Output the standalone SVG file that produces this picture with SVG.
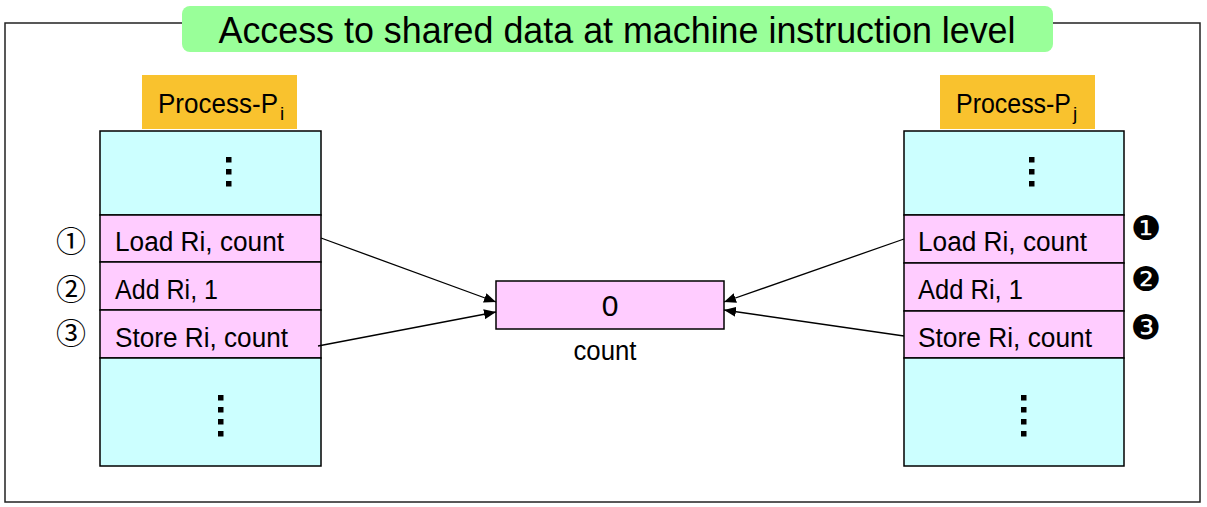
<svg xmlns="http://www.w3.org/2000/svg" width="1207" height="507" viewBox="0 0 1207 507">
<defs>
<style>
.t{font-family:"Liberation Sans",Arial,sans-serif;fill:#000}
.row{fill:#FFCCFF;stroke:#000;stroke-width:1.5}
.cy{fill:#CCFFFF;stroke:#000;stroke-width:1.5}
.lab{fill:#F9C22E}
.dot{fill:#000}
.con{stroke:#000;stroke-width:1.3;fill:none;marker-end:url(#ah)}
.cn{font-family:"Noto Sans CJK JP","DejaVu Sans",sans-serif;fill:#000}
.dn{font-family:"DejaVu Sans",sans-serif;fill:#000}
</style>
<marker id="ah" viewBox="0 0 12 10" refX="12" refY="5" markerWidth="12" markerHeight="10" markerUnits="userSpaceOnUse" orient="auto">
<path d="M0,0 L12,5 L0,10 z" fill="#000"/>
</marker>
</defs>
<rect width="1207" height="507" fill="#fff"/>
<rect id="frame" x="5" y="23" width="1195" height="479" fill="none" stroke="#222" stroke-width="1.5"/>
<g id="title">
<rect x="182" y="6" width="871" height="46" rx="8" fill="#99FF99"/>
<text class="t" x="617" y="43" font-size="36" text-anchor="middle" textLength="797" lengthAdjust="spacingAndGlyphs">Access to shared data at machine instruction level</text>
</g>
<g id="process-pi">
<rect class="lab" x="142" y="75" width="155" height="54"/>
<text class="t" x="158" y="113" font-size="28"><tspan textLength="120" lengthAdjust="spacingAndGlyphs">Process-P</tspan><tspan font-size="19" dx="2" dy="7">i</tspan></text>
<rect class="cy" x="100" y="131" width="221" height="84"/>
<rect class="dot" x="226" y="157" width="5.5" height="5.5"/>
<rect class="dot" x="226" y="169" width="5.5" height="5.5"/>
<rect class="dot" x="226" y="181" width="5.5" height="5.5"/>
<rect class="row" x="100" y="215" width="221" height="47"/>
<text class="t" x="115" y="251" font-size="27" textLength="169" lengthAdjust="spacingAndGlyphs">Load Ri, count</text>
<rect class="row" x="100" y="262" width="221" height="48"/>
<text class="t" x="115" y="299" font-size="27" textLength="103" lengthAdjust="spacingAndGlyphs">Add Ri, 1</text>
<rect class="row" x="100" y="310" width="221" height="48"/>
<text class="t" x="115" y="347" font-size="27" textLength="173" lengthAdjust="spacingAndGlyphs">Store Ri, count</text>
<rect class="cy" x="100" y="358" width="221" height="108"/>
<rect class="dot" x="218" y="395" width="5.5" height="5.5"/>
<rect class="dot" x="218" y="407" width="5.5" height="5.5"/>
<rect class="dot" x="218" y="419" width="5.5" height="5.5"/>
<rect class="dot" x="218" y="431" width="5.5" height="5.5"/>
<text class="cn" x="71" y="252" font-size="30" text-anchor="middle">①</text>
<text class="cn" x="71" y="300" font-size="30" text-anchor="middle">②</text>
<text class="cn" x="71" y="344" font-size="30" text-anchor="middle">③</text>
</g>
<g id="process-pj">
<rect class="lab" x="940" y="75" width="155" height="54"/>
<text class="t" x="956" y="113" font-size="28"><tspan textLength="115" lengthAdjust="spacingAndGlyphs">Process-P</tspan><tspan font-size="19" dx="2" dy="7">j</tspan></text>
<rect class="cy" x="904" y="131" width="220" height="84"/>
<rect class="dot" x="1029" y="157" width="5.5" height="5.5"/>
<rect class="dot" x="1029" y="169" width="5.5" height="5.5"/>
<rect class="dot" x="1029" y="181" width="5.5" height="5.5"/>
<rect class="row" x="904" y="215" width="220" height="48"/>
<text class="t" x="918" y="251" font-size="27" textLength="169" lengthAdjust="spacingAndGlyphs">Load Ri, count</text>
<rect class="row" x="904" y="263" width="220" height="48"/>
<text class="t" x="918" y="299" font-size="27" textLength="105" lengthAdjust="spacingAndGlyphs">Add Ri, 1</text>
<rect class="row" x="904" y="311" width="220" height="47"/>
<text class="t" x="918" y="347" font-size="27" textLength="174" lengthAdjust="spacingAndGlyphs">Store Ri, count</text>
<rect class="cy" x="904" y="358" width="220" height="108"/>
<rect class="dot" x="1021" y="395" width="5.5" height="5.5"/>
<rect class="dot" x="1021" y="407" width="5.5" height="5.5"/>
<rect class="dot" x="1021" y="419" width="5.5" height="5.5"/>
<rect class="dot" x="1021" y="431" width="5.5" height="5.5"/>
<text class="dn" x="1146" y="240" font-size="34" text-anchor="middle">❶</text>
<text class="dn" x="1146" y="291" font-size="34" text-anchor="middle">❷</text>
<text class="dn" x="1146" y="339" font-size="34" text-anchor="middle">❸</text>
</g>
<g id="count">
<rect class="row" x="496" y="281" width="228" height="48"/>
<text class="t" x="610" y="316" font-size="30" text-anchor="middle">0</text>
<text class="t" x="605" y="360" font-size="27" text-anchor="middle" textLength="63" lengthAdjust="spacingAndGlyphs">count</text>
</g>
<g id="connectors">
<line class="con" x1="321" y1="238" x2="496" y2="302"/>
<line class="con" x1="318" y1="346" x2="496" y2="312"/>
<line class="con" x1="904" y1="239" x2="724" y2="302"/>
<line class="con" x1="904" y1="336" x2="724" y2="310"/>
</g>
</svg>
